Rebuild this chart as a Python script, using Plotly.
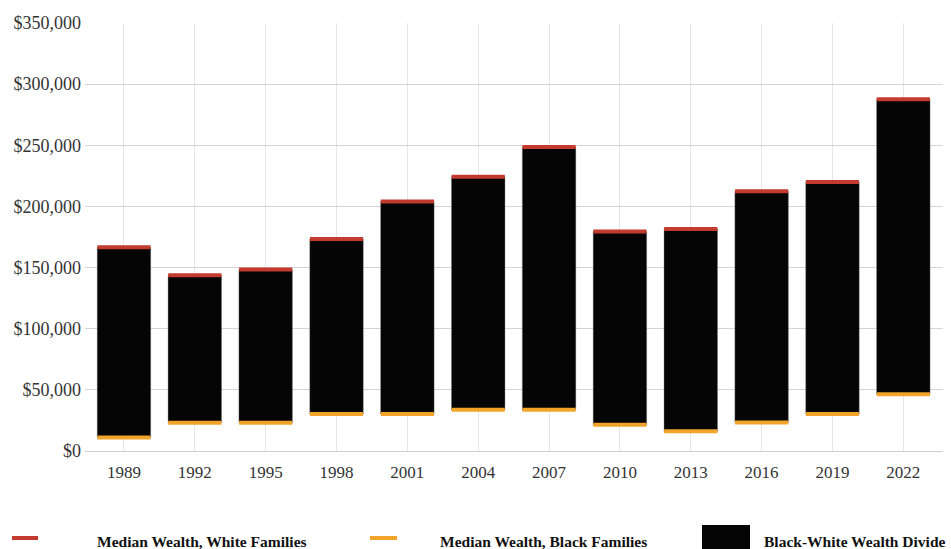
import plotly.graph_objects as go

years = ["1989", "1992", "1995", "1998", "2001", "2004", "2007", "2010", "2013", "2016", "2019", "2022"]
white_median = [166600, 143700, 148400, 173300, 204000, 224200, 248500, 179500, 181500, 212400, 220000, 287600]
black_median = [11000, 23100, 23100, 30200, 30200, 33700, 33700, 21400, 16100, 23300, 30300, 46500]
y_ticks = [0, 50000, 100000, 150000, 200000, 250000, 300000, 350000]
y_tick_labels = ["$0", "$50,000", "$100,000", "$150,000", "$200,000", "$250,000", "$300,000", "$350,000"]

RED = "#c23b2e"
ORANGE = "#f2a42a"
BLACK = "#050505"
FONT = "Liberation Serif"

W, H = 951, 549
ML, MR, MT, MB = 85, 8, 23, 98
PW, PH = W - ML - MR, H - MT - MB

divide = [w - b for w, b in zip(white_median, black_median)]

fig = go.Figure()
fig.add_trace(go.Bar(
    x=years, y=divide, base=black_median, width=0.755,
    marker=dict(color=BLACK, line=dict(color="rgba(120,120,120,0.6)", width=0.6)),
    name="Black-White Wealth Divide", showlegend=False,
))
fig.add_trace(go.Scatter(
    x=years, y=white_median, mode="markers",
    marker=dict(symbol="line-ew", size=38, line=dict(color=RED, width=4)),
    name="Median Wealth, White Families", showlegend=False,
))
fig.add_trace(go.Scatter(
    x=years, y=black_median, mode="markers",
    marker=dict(symbol="line-ew", size=38, line=dict(color=ORANGE, width=4)),
    name="Median Wealth, Black Families", showlegend=False,
))


def px_x(px):
    return (px - ML) / PW


def px_y(py):
    return (H - MB - py) / PH


shapes = [
    dict(type="line", xref="paper", yref="paper", x0=px_x(12), x1=px_x(38), y0=px_y(538), y1=px_y(538),
         line=dict(color=RED, width=4)),
    dict(type="line", xref="paper", yref="paper", x0=px_x(370), x1=px_x(397), y0=px_y(538), y1=px_y(538),
         line=dict(color=ORANGE, width=4)),
    dict(type="rect", xref="paper", yref="paper", x0=px_x(702), x1=px_x(750), y0=px_y(525), y1=px_y(552),
         fillcolor=BLACK, line=dict(width=0)),
]
legend_items = [(95, "Median Wealth, White Families"), (438, "Median Wealth, Black Families"),
                (762, "Black-White Wealth Divide")]
annotations = [
    dict(xref="paper", yref="paper", x=px_x(x), y=px_y(541), text="<b>%s</b>" % t, showarrow=False,
         xanchor="left", yanchor="middle", font=dict(family=FONT, size=15.5, color="#111111"))
    for x, t in legend_items
]

fig.update_layout(
    width=W, height=H,
    margin=dict(l=ML, r=MR, t=MT, b=MB),
    paper_bgcolor="white", plot_bgcolor="white",
    font=dict(family=FONT, size=17, color="#333333"),
    showlegend=False,
    shapes=shapes, annotations=annotations,
    xaxis=dict(type="category", range=[-0.55, 11.56], showgrid=True, gridcolor="#e6e6e6", gridwidth=1,
               ticks="", showline=False, ticklabelstandoff=9,
               tickfont=dict(family=FONT, size=17, color="#333333")),
    yaxis=dict(range=[0, 350000], tickvals=y_ticks, ticktext=y_tick_labels, showgrid=True,
               gridcolor="#d4d4d4", gridwidth=1, zeroline=True, zerolinecolor="#cfcfcf", zerolinewidth=1,
               ticks="", showline=False, ticklabelstandoff=3,
               tickfont=dict(family=FONT, size=18, color="#333333")),
)

fig.write_html("out.html")
